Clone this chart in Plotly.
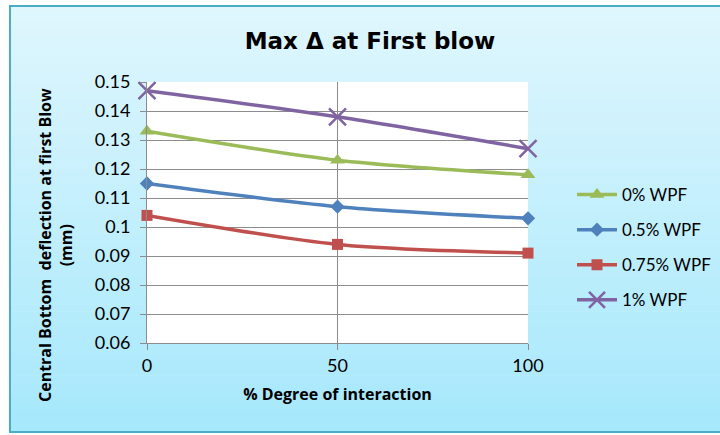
import plotly.graph_objects as go

x_vals = [0, 50, 100]
series_names = ["0% WPF", "0.5% WPF", "0.75% WPF", "1% WPF"]
wpf0 = [0.133, 0.123, 0.118]
wpf05 = [0.115, 0.107, 0.103]
wpf075 = [0.104, 0.094, 0.091]
wpf1 = [0.147, 0.138, 0.127]
y_ticks = [0.06, 0.07, 0.08, 0.09, 0.1, 0.11, 0.12, 0.13, 0.14, 0.15]
y_tick_labels = ["0.06", "0.07", "0.08", "0.09", "0.1", "0.11", "0.12", "0.13", "0.14", "0.15"]

colors = ["#9bbb59", "#4f81bd", "#c0504d", "#8064a2"]
symbols = ["triangle-up", "diamond", "square", "x-thin-open"]
msizes = [13, 11, 11, 17]
data = [wpf0, wpf05, wpf075, wpf1]

fig = go.Figure()
for name, ys, c, s, ms in zip(series_names, data, colors, symbols, msizes):
    fig.add_trace(go.Scatter(
        x=x_vals, y=ys, name=name, mode="lines+markers",
        line=dict(color=c, width=3.5, shape="spline", smoothing=0.8),
        marker=dict(symbol=s, size=ms, color=c, line=dict(color=c, width=2.5 if s.startswith("x") else 0)),
        legendgroup=name, cliponaxis=False,
    ))

W, H = 720, 435
l, r, t, b = 147, 192, 82, 92
pw = W - l - r
ph = H - t - b

def fx(px):
    return (px - l) / pw

def fy(py):
    return 1 - (py - t) / ph

# gradient background box
bx0, bx1 = 10, 730
y_top, y_bot = 6, 432
n = 60
c_top = (0xdf, 0xf6, 0xfd)
c_bot = (0xa6, 0xe8, 0xfc)
shapes = []
for i in range(n):
    tt = i / (n - 1)
    col = tuple(int(round(a + (bb - a) * tt)) for a, bb in zip(c_top, c_bot))
    ya = y_top + (y_bot - y_top) * i / n
    yb = y_top + (y_bot - y_top) * (i + 1) / n + 0.5
    shapes.append(dict(type="rect", xref="paper", yref="paper", layer="below",
                       x0=fx(bx0), x1=fx(bx1), y0=fy(ya), y1=fy(yb),
                       fillcolor="rgb(%d,%d,%d)" % col, line=dict(width=0)))
shapes.append(dict(type="rect", xref="paper", yref="paper", layer="below",
                   x0=fx(bx0), x1=fx(bx1), y0=fy(y_top), y1=fy(y_bot),
                   fillcolor="rgba(0,0,0,0)", line=dict(color="#4bacc6", width=2)))
shapes.append(dict(type="rect", xref="paper", yref="paper", layer="below",
                   x0=0, x1=1, y0=0, y1=1, fillcolor="white", line=dict(width=0)))

annotations = [
    dict(text="<b>Central Bottom  deflection at first Blow<br>(mm)</b>",
         xref="paper", yref="paper", x=fx(55), y=fy(245), xanchor="center", yanchor="middle",
         textangle=-90, showarrow=False, align="center",
         font=dict(size=16, family="Open Sans", color="black")),
]

fig.update_layout(
    width=W, height=H,
    margin=dict(l=l, r=r, t=t, b=b, autoexpand=False),
    paper_bgcolor="white",
    plot_bgcolor="rgba(0,0,0,0)",
    shapes=shapes,
    annotations=annotations,
    title=dict(text="<b>Max Δ at First blow</b>", x=370 / W, xanchor="center",
               y=1 - 41 / H, yanchor="middle",
               font=dict(family="DejaVu Sans", size=23, color="black")),
    font=dict(family="Lato", color="black"),
    xaxis=dict(range=[0, 100], tickvals=x_vals, ticktext=["0", "50", "100"],
               showgrid=True, gridcolor="#8c8c8c", gridwidth=1,
               showline=True, linecolor="#8c8c8c", linewidth=1,
               ticks="outside", ticklen=6, tickcolor="#8c8c8c",
               tickfont=dict(size=18, family="Lato"),
               zeroline=False,
               title=dict(text="<b>% Degree of interaction</b>", font=dict(size=16, family="Open Sans"), standoff=14)),
    yaxis=dict(range=[0.06, 0.15], tickvals=y_ticks, ticktext=y_tick_labels,
               showgrid=True, gridcolor="#8c8c8c", gridwidth=1,
               showline=True, linecolor="#8c8c8c", linewidth=1,
               ticks="outside", ticklen=6, tickcolor="#8c8c8c",
               tickfont=dict(size=18, family="Lato"),
               ticklabelstandoff=6,
               zeroline=False),
    legend=dict(x=(572 - l) / pw, xanchor="left", y=fy(177), yanchor="top",
                bgcolor="rgba(0,0,0,0)", font=dict(size=17, family="Lato"),
                tracegroupgap=10, itemwidth=40),
    showlegend=True,
)

fig.write_html("out.html")
